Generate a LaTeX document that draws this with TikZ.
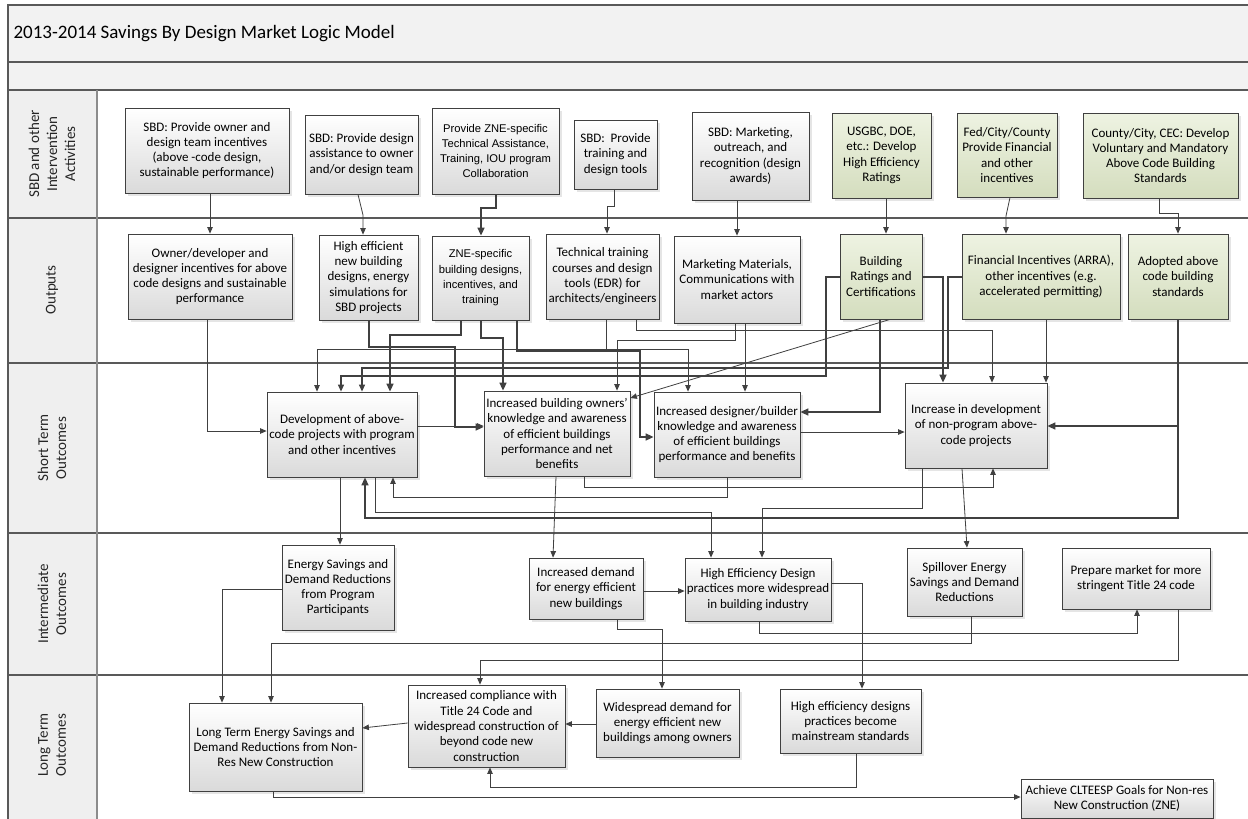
\documentclass[tikz,border=0pt]{standalone}
\usepackage{fontspec}
\setmainfont{Carlito}
\newfontfamily\arialf{Liberation Sans}
\usetikzlibrary{arrows.meta,shadows}
\definecolor{bordc}{HTML}{404040}
\definecolor{boxbot}{HTML}{DADADA}
\definecolor{gtop}{HTML}{EEF3E2}
\definecolor{gbot}{HTML}{D4DDBE}
\definecolor{lnc}{HTML}{404040}
\definecolor{bandc}{HTML}{F2F2F2}
\definecolor{hdrc}{HTML}{EFEFEF}
\definecolor{framec}{HTML}{595959}
\tikzset{
 box/.style={draw=bordc, line width=0.8pt, top color=white, bottom color=boxbot, align=center, inner sep=1pt, font=\fontsize{13}{15.3}\selectfont, drop shadow={shadow xshift=2.5pt, shadow yshift=-2.5pt, fill=black!20}},
 gbox/.style={box, top color=gtop, bottom color=gbot},
 abox/.style={box, font=\arialf\fontsize{11.2}{15.3}\selectfont},
 cn/.style={draw=lnc, line width=0.8pt, -{Triangle[length=6.5pt,width=5.5pt]}},
 cnm/.style={draw=lnc, line width=1.2pt, -{Triangle[length=7pt,width=6pt]}},
 cnt/.style={draw=lnc, line width=1.6pt, -{Triangle[length=8pt,width=7pt]}},
 lane/.style={rotate=90, align=center, font=\fontsize{15}{18}\selectfont, text=black!85},
 frame/.style={draw=framec, line width=1.3pt},
}
\begin{document}
\begin{tikzpicture}[x=1pt,y=-1pt]
\useasboundingbox (0,0) rectangle (1248,819);
\fill[white] (0,0) rectangle (1248,819);
% bands
\fill[bandc] (8,5) rectangle (1252,90);
\fill[hdrc] (8,90) rectangle (97,830);
\draw[frame] (1252,5) -- (8,5) -- (8,830);
\draw[frame] (8,62) -- (1252,62);
\draw[frame] (8,90) -- (1252,90);
\foreach \yy in {218,363,533,675} \draw[frame] (8,\yy) -- (1252,\yy);
\draw[draw=black!45, line width=2.2pt] (97,90) -- (97,830);
\node[anchor=west, font=\fontsize{19}{23}\selectfont] (title) at (10,34) {2013-2014 Savings By Design Market Logic Model};
\node[lane] (h1) at (52,154) {SBD and other\\Intervention\\Activities};
\node[lane] (h2) at (52,290) {Outputs};
\node[lane] (h3) at (52,448) {Short Term\\Outcomes};
\node[lane] (h4) at (52,604) {Intermediate\\Outcomes};
\node[lane] (h5) at (52,745) {Long Term\\Outcomes};

% Activities
\node[box, minimum width=164pt, minimum height=85pt] (A1) at (207,150.5) {SBD: Provide owner and\\design team incentives\\(above -code design,\\sustainable performance)};
\node[box, minimum width=113pt, minimum height=79pt] (A2) at (361.5,154.5) {SBD: Provide design\\assistance to owner\\and/or design team};
\node[abox, minimum width=127pt, minimum height=86pt] (A3) at (495.5,151) {Provide ZNE-specific\\Technical Assistance,\\Training, IOU program\\Collaboration};
\node[box, minimum width=83pt, minimum height=69pt] (A4) at (615.5,154.5) {SBD:\ \ Provide\\training and\\design tools};
\node[box, minimum width=117pt, minimum height=88pt] (A5) at (750.5,156) {SBD: Marketing,\\outreach, and\\recognition (design\\awards)};
\node[gbox, minimum width=99pt, minimum height=85pt] (A6) at (881.5,155.5) {USGBC, DOE,\\etc.: Develop\\High Efficiency\\Ratings};
\node[gbox, minimum width=100pt, minimum height=84pt] (A7) at (1007,155) {Fed/City/County\\Provide Financial\\and other\\incentives};
\node[gbox, minimum width=155pt, minimum height=85pt] (A8) at (1160.5,155.5) {County/City, CEC: Develop\\Voluntary and Mandatory\\Above Code Building\\Standards};

% Outputs
\node[box, minimum width=164pt, minimum height=85pt] (O1) at (210,276.5) {Owner/developer and\\designer incentives for above\\code designs and sustainable\\performance};
\node[box, minimum width=99pt, minimum height=85pt] (O2) at (368.5,277.5) {High efficient\\new building\\designs, energy\\simulations for\\SBD projects};
\node[abox, minimum width=97pt, minimum height=84pt] (O3) at (480.5,278) {ZNE-specific\\building designs,\\incentives, and\\training};
\node[box, minimum width=113pt, minimum height=85pt] (O4) at (602.5,276.5) {Technical training\\courses and design\\tools (EDR) for\\architects/engineers};
\node[box, minimum width=126pt, minimum height=87pt] (O5) at (737,279.5) {Marketing Materials,\\Communications with\\market actors};
\node[gbox, minimum width=82pt, minimum height=85pt] (O6) at (881,276.5) {Building\\Ratings and\\Certifications};
\node[gbox, minimum width=158pt, minimum height=85pt] (O7) at (1041,276.5) {Financial Incentives (ARRA),\\other incentives (e.g.\\accelerated permitting)};
\node[gbox, minimum width=100pt, minimum height=85pt] (O8) at (1178,276.5) {Adopted above\\code building\\standards};

% Short term
\node[box, minimum width=150pt, minimum height=85pt] (S1) at (342,434.5) {Development of above-\\code projects with program\\and other incentives};
\node[box, minimum width=146pt, minimum height=85pt] (S2) at (557,433.5) {Increased building owners’\\knowledge and awareness\\of efficient buildings\\performance and net\\benefits};
\node[box, minimum width=146pt, minimum height=85pt] (S3) at (727,434.5) {Increased designer/builder\\knowledge and awareness\\of efficient buildings\\performance and benefits};
\node[box, minimum width=142pt, minimum height=85pt] (S4) at (976,425.5) {Increase in development\\of non-program above-\\code projects};

% Intermediate
\node[box, minimum width=112pt, minimum height=85pt] (I1) at (338,587.5) {Energy Savings and\\Demand Reductions\\from Program\\Participants};
\node[box, minimum width=114pt, minimum height=61pt] (I2) at (586,588.5) {Increased demand\\for energy efficient\\new buildings};
\node[box, minimum width=146pt, minimum height=63pt] (I3) at (758,589.5) {High Efficiency Design\\practices more widespread\\in building industry};
\node[box, minimum width=115pt, minimum height=68pt] (I4) at (964.5,582) {Spillover Energy\\Savings and Demand\\Reductions};
\node[box, minimum width=148pt, minimum height=61pt] (I5) at (1136,578.5) {Prepare market for more\\stringent Title 24 code};

% Long term
\node[box, minimum width=173pt, minimum height=88pt] (L1) at (275.5,747) {Long Term Energy Savings and\\Demand Reductions from Non-\\Res New Construction};
\node[box, minimum width=157pt, minimum height=82pt] (L2) at (486.5,726) {Increased compliance with\\Title 24 Code and\\widespread construction of\\beyond code new\\construction};
\node[box, minimum width=143pt, minimum height=68pt] (L3) at (667.5,723) {Widespread demand for\\energy efficient new\\buildings among owners};
\node[box, minimum width=141pt, minimum height=64pt] (L4) at (850.5,721) {High efficiency designs\\practices become\\mainstream standards};
\node[box, minimum width=192pt, minimum height=39pt] (L5) at (1117,798.5) {Achieve CLTEESP Goals for Non-res\\New Construction (ZNE)};

% Activities -> Outputs
\draw[cn] (A1.south -| 210,0) -- (O1.north -| 210,0);
\draw[cn] (A2.south -| 358,0) -- (363,215) -- (O2.north -| 363,0);
\draw[cnt] (A3.south -| 496,0) -- (496,208) -| (O3.north -| 481,0);
\draw[cn] (A4.south -| 614,0) -- (614,206) -| (O4.north -| 607,0);
\draw[cn] (A5.south -| 737,0) -- (O5.north -| 737,0);
\draw[cn] (A6.south -| 886,0) -- (O6.north -| 886,0);
\draw[cn] (A7.south -| 1010,0) -- (1006,216) -- (O7.north -| 1006,0);
\draw[cn] (A8.south -| 1159,0) -- (1159,213) -| (O8.north -| 1178,0);

% Outputs -> Short term
\draw[cn] (O1.south -| 207,0) |- (S1.west |- 0,431);
\draw[cnt] (O2.south -| 369,0) -- (369,347) -| (455,427) -- (S2.west |- 0,427);
\draw[cnt] (O3.south -| 461,0) -- (461,335) -| (S1.north -| 390,0);
\draw[cnt] (O3.south -| 481,0) -- (481,338) -| (S2.north -| 503,0);
\draw[cnt] (O3.south -| 517,0) -- (517,351) -| (640,437) -- (S3.west |- 0,437);
\draw[cn] (O4.south -| 606,0) -- (606,349) -| (S1.north -| 317,0);
\draw[cn] (O4.south -| 606,0) -- (606,349) -| (S3.north -| 688,0);
\draw[cn] (O4.south -| 636,0) -- (636,330) -| (S4.north -| 992,0);
\draw[cn] (O5.south -| 735,0) -- (735,340) -| (S2.north -| 617,0);
\draw[cn] (O5.south -| 745,0) -- (S3.north -| 745,0);
\draw[cnm] (O6.west |- 0,277) -- (826,277) -- (826,376) -| (S1.north -| 341,0);
\draw[cnt] (O6.east |- 0,277) -| (S4.north -| 943,0);
\draw[cnt] (O6.south -| 880,0) |- (S3.east |- 0,412);
\draw[cn] (O6.south -| 890,0) -- (S2.east |- 0,398);
\draw[cnm] (O7.west |- 0,277) -- (948,277) -- (948,368) -| (S1.north -| 362,0);
\draw[cn] (O7.south -| 1046,0) -- (S4.north -| 1046,0);
\draw[cnt] (O8.south -| 1178,0) |- (S4.east |- 0,426);
\draw[cnt] (O8.south -| 1178,0) -- (1178,518) -| (S1.south -| 365,0);

% Short term links
\draw[cn] (S1.east |- 0,426) -- (S2.west |- 0,426);
\draw[cn] (S3.east |- 0,432) -- (S4.west |- 0,432);
\draw[cn] (S3.south -| 727,0) -- (727,497) -| (S1.south -| 393,0);
\draw[cn] (S2.south -| 584,0) -- (584,487) -| (S4.south -| 993,0);

% Short -> Intermediate
\draw[cn] (S1.south -| 340,0) -- (I1.north -| 340,0);
\draw[cn] (S1.south -| 375,0) -- (375,512) -| (I3.north -| 711,0);
\draw[cn] (S2.south -| 556,0) -- (I2.north -| 553,0);
\draw[cn] (S4.south -| 922,0) -- (922,508) -| (I3.north -| 762,0);
\draw[cn] (S4.south -| 962,0) -- (I4.north -| 967,0);

% Intermediate
\draw[cn] (I2.east |- 0,591) -- (I3.west |- 0,591);
\draw[cn] (I3.south -| 759,0) -- (759,633) -| (I5.south -| 1137,0);
\draw[cn] (I3.east |- 0,583) -| (L4.north -| 862,0);
\draw[cn] (I2.south -| 617,0) -- (617,629) -| (L3.north -| 662,0);
\draw[cn] (I1.west |- 0,589) -| (L1.north -| 222,0);
\draw[cn] (I4.south -| 971,0) -- (971,643) -| (L1.north -| 271,0);
\draw[cn] (I5.south -| 1178,0) -- (1178,660) -| (L2.north -| 480,0);

% Long term
\draw[cn] (L3.west |- 0,724) -- (L2.east |- 0,724);
\draw[cn] (L2.west |- 0,723) -- (L1.east |- 0,728);
\draw[cn] (L4.south -| 856,0) -- (856,787) -| (L2.south -| 490,0);
\draw[cn] (L1.south -| 273,0) |- (L5.west |- 0,797);
\end{tikzpicture}
\end{document}
